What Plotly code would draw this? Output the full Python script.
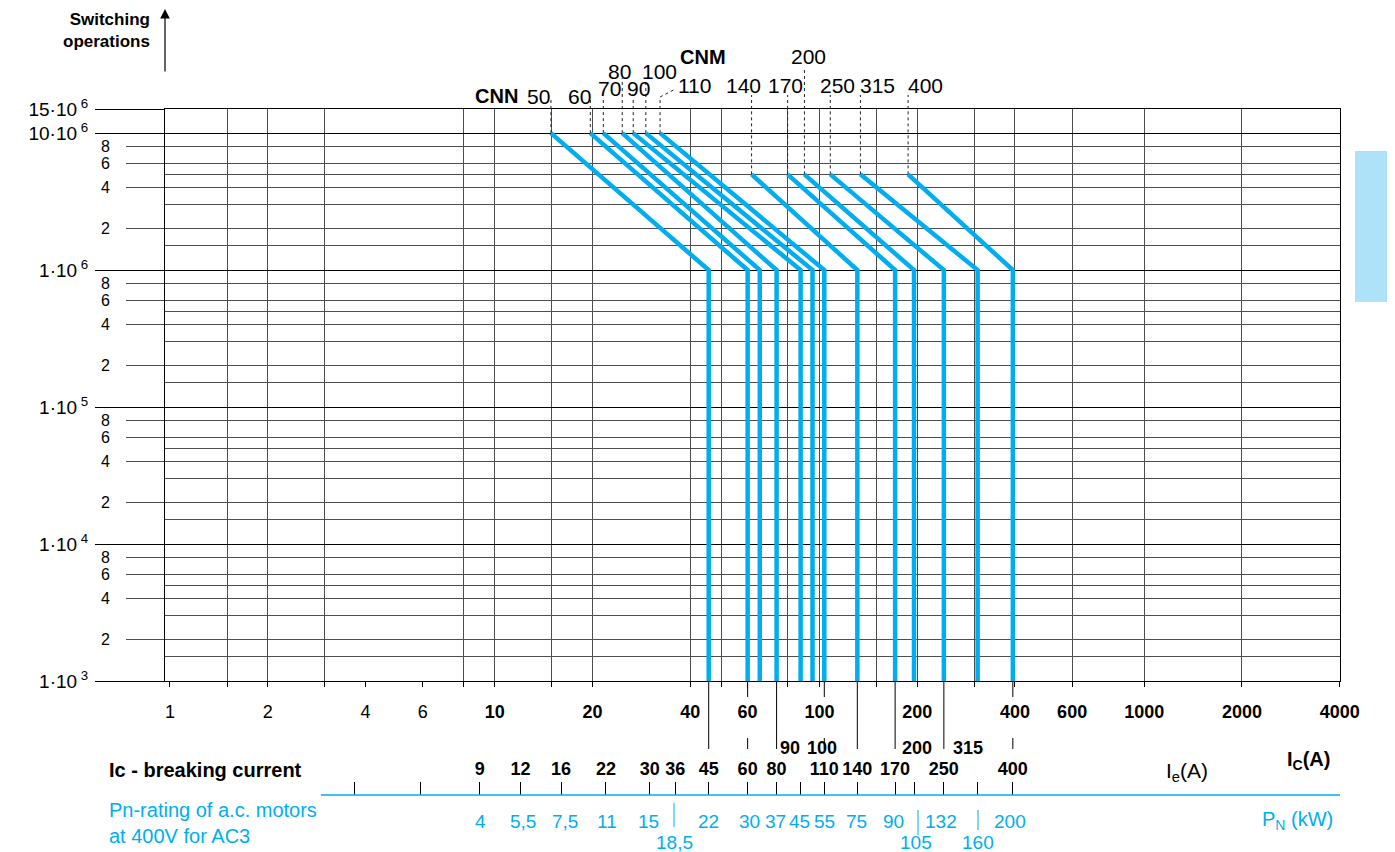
import numpy as np
import plotly.graph_objects as go

# --- data ----------------------------------------------------------------
contactors = ["50", "60", "70", "80", "90", "100", "110", "140", "170", "200", "250", "315", "400"]
start_ic = [14.9, 19.7, 21.6, 24.7, 26.7, 29.2, 32.3, 61.8, 79.8, 89.9, 108, 133.7, 187.5]
start_ops = [1e7, 1e7, 1e7, 1e7, 1e7, 1e7, 1e7, 5e6, 5e6, 5e6, 5e6, 5e6, 5e6]
knee_ic = [45.6, 60.1, 65.5, 73.8, 87.5, 95.2, 103.5, 130.8, 171, 195.5, 241.6, 307, 394]
knee_ops = 1e6
end_ops = 1e3

ic_ticks = [1, 2, 4, 6, 10, 20, 40, 60, 100, 200, 400, 600, 1000, 2000, 4000]
ic_bold = [False, False, False, False, True, True, True, True, True, True, True, True, True, True, True]
ic_grid = [1.5, 2, 3, 8, 10, 15, 20, 40, 50, 80, 100, 150, 200, 300, 400, 600, 1000, 2000]

ops_major = [1e3, 1e4, 1e5, 1e6, 1e7, 1.5e7]
ops_major_text = ["1·10<sup> 3</sup>", "1·10<sup> 4</sup>", "1·10<sup> 5</sup>", "1·10<sup> 6</sup>",
                  "10·10<sup> 6</sup>", "15·10<sup> 6</sup>"]
ops_decades = [1e3, 1e4, 1e5, 1e6]
ops_sub_labels = [2, 4, 6, 8]
ops_sub_grid = [1.5, 3, 5]

ie_ticks = [3.7, 5.9, 9, 12, 16, 22, 30, 36, 45.6, 60.1, 73.8, 87.5, 103.5, 130.8, 171, 195.5, 241.6, 307, 394]
ie_text = ["", "", "9", "12", "16", "22", "30", "36", "45", "60", "80", "", "110", "140", "170", "", "250", "", "400"]
ie_upper = ["90", "100", "200", "315"]

pn_row1 = ["4", "5,5", "7,5", "11", "15", "22", "30", "37", "45", "55", "75", "90", "132", "200"]
pn_row2 = ["18,5", "105", "160"]

# --- layout helpers (window pixel -> paper) ------------------------------
OFF = 8  # page body margin
WIN_W, WIN_H = 1395, 852
PL, PR, PT, PB = 165, 1340, 109, 681   # plot box in window pixels
PAPER_BOTTOM = 822

W, H = WIN_W - OFF, WIN_H - OFF
L, T = PL - OFF, PT - OFF
R = WIN_W - PR
B = WIN_H - PAPER_BOTTOM


def px(x):
    return (x - PL) / (PR - PL)


def py(y):
    return (PAPER_BOTTOM - y) / (PAPER_BOTTOM - PT)


BLUE = "#00AEEF"
GRID = "#4d4d4d"
SANS = "Liberation Sans, Arial, sans-serif"
NARROW = "Liberation Sans Narrow, Arial Narrow, Liberation Sans, Arial, sans-serif"

x_range = [-0.01534, 3.603]
y_range = [3, np.log10(1.5e7)]

fig = go.Figure()

# dotted leaders from the rating labels down to each curve start
for s, so in zip(start_ic, start_ops):
    fig.add_trace(go.Scatter(x=[s, s], y=[so, 1.5e7], mode="lines",
                             line=dict(color="#222", width=1, dash="dot"),
                             hoverinfo="skip", showlegend=False))

# life curves
for name, s, so, k in zip(contactors, start_ic, start_ops, knee_ic):
    fig.add_trace(go.Scatter(x=[s, k, k], y=[so, knee_ops, end_ops], mode="lines",
                             line=dict(color=BLUE, width=4.5), name=name,
                             hoverinfo="x+y+name", showlegend=False))

# invisible trace so the overlay axes are drawn
fig.add_trace(go.Scatter(x=[10], y=[1e4], xaxis="x2", yaxis="y2", mode="markers",
                         marker=dict(opacity=0), hoverinfo="skip", showlegend=False))

ic_text = [f"<b>{v}</b>" if b else str(v) for v, b in zip(ic_ticks, ic_bold)]
ie_text_b = [f"<b>{t}</b>" if t else "" for t in ie_text]
sub_vals = [d * m for d in ops_decades for m in ops_sub_labels]
sub_text = [str(m) for d in ops_decades for m in ops_sub_labels]
sub_grid = [d * m for d in ops_decades for m in ops_sub_grid]

fig.update_layout(
    width=W, height=H,
    margin=dict(l=L, r=R, t=T, b=B, autoexpand=False),
    paper_bgcolor="white", plot_bgcolor="white",
    showlegend=False,
    xaxis=dict(type="log", range=x_range, tickvals=ic_ticks, ticktext=ic_text,
               ticks="outside", ticklen=5, tickcolor="black", showgrid=False,
               showline=True, linecolor="black", linewidth=1, mirror=True,
               tickfont=dict(family=NARROW, size=18, color="black"),
               ticklabelstandoff=9, anchor="y", automargin=False,
               minor=dict(tickvals=ic_grid, ticks="outside", ticklen=5, tickcolor="black",
                          showgrid=True, gridcolor=GRID, gridwidth=1)),
    xaxis2=dict(type="log", range=x_range, overlaying="x", anchor="free",
                position=py(795), side="top", tickvals=ie_ticks, ticktext=ie_text_b,
                ticks="outside", ticklen=13, tickcolor="black", showgrid=False,
                showline=False, tickfont=dict(family=NARROW, size=18, color="black"),
                ticklabelstandoff=0, automargin=False),
    yaxis=dict(type="log", range=y_range, domain=[py(PB), 1], tickvals=ops_major,
               ticktext=ops_major_text, ticks="outside", ticklen=69, tickcolor="black",
               showgrid=True, gridcolor="black", gridwidth=1,
               showline=True, linecolor="black", linewidth=1, mirror=True,
               tickfont=dict(family=SANS, size=19, color="black"), ticklabelstandoff=3,
               automargin=False,
               minor=dict(tickvals=sub_grid, ticks="", showgrid=True, gridcolor=GRID,
                          gridwidth=1)),
    yaxis2=dict(type="log", range=y_range, overlaying="y", side="left", tickvals=sub_vals,
                ticktext=sub_text, ticks="outside", ticklen=38, tickcolor=GRID,
                showgrid=True, gridcolor=GRID, gridwidth=1, showline=False,
                tickfont=dict(family=SANS, size=16, color="black"), ticklabelstandoff=13,
                automargin=False),
)

shapes = []
# leader lines above the plot area
leader_top = [98, 98, 100, 78, 98, 78, 97, 95, 95, 68, 95, 95, 95]
for s, top in zip(start_ic, leader_top):
    shapes.append(dict(type="line", xref="x", yref="paper", x0=s, x1=s, y0=1, y1=py(top),
                       line=dict(color="#222", width=1, dash="dot")))
shapes.append(dict(type="line", xref="x", yref="paper", x0=start_ic[6], x1=start_ic[6] * 1.1,
                   y0=py(97), y1=py(90), line=dict(color="#222", width=1, dash="dot")))

# connectors below the Ic axis
for i in [0, 3, 7, 8, 10]:
    shapes.append(dict(type="line", xref="x", yref="paper", x0=knee_ic[i], x1=knee_ic[i],
                       y0=py(681), y1=py(749), line=dict(color="black", width=1)))
for i in [1, 6, 12]:
    for a, b in [(681, 697), (738, 749)]:
        shapes.append(dict(type="line", xref="x", yref="paper", x0=knee_ic[i], x1=knee_ic[i],
                           y0=py(a), y1=py(b), line=dict(color="black", width=1)))

# Ie scale line and Pn separators
shapes.append(dict(type="line", xref="paper", yref="paper", x0=px(321), x1=px(1340),
                   y0=py(795), y1=py(795), line=dict(color=BLUE, width=1.5)))
for xx, a, b in [(674, 803, 827), (918, 810, 835), (978, 810, 830)]:
    shapes.append(dict(type="line", xref="paper", yref="paper", x0=px(xx), x1=px(xx),
                       y0=py(a), y1=py(b), line=dict(color=BLUE, width=1)))

# side tab
shapes.append(dict(type="rect", xref="paper", yref="paper", x0=px(1355), x1=px(1400),
                   y0=py(302), y1=py(151), fillcolor="#AEE2F8", line=dict(width=0)))
fig.update_layout(shapes=shapes)


def ann(text, x, y, size=16, color="black", family=SANS, xanchor="center", **kw):
    fig.add_annotation(text=text, xref="paper", yref="paper", x=px(x), y=py(y),
                       showarrow=False, xanchor=xanchor, yanchor="middle",
                       font=dict(family=family, size=size, color=color), **kw)


# y axis title and arrow
ann("<b>Switching<br>operations</b>", 152, 30, size=17, xanchor="right", align="right")
fig.add_annotation(x=px(165), y=py(9), xref="paper", yref="paper", text="", showarrow=True,
                   ax=0, ay=64, arrowhead=2, arrowsize=1.6, arrowwidth=1.2, arrowcolor="black")

# rating labels
label_pos = [(538, 96), (579, 96), (609, 89), (619, 71), (638, 89), (659, 71), (694, 85),
             (743, 85), (785, 85), (808, 57), (837, 85), (877, 85), (925, 85)]
for name, (lx, ly) in zip(contactors, label_pos):
    ann(name, lx, ly, size=21)
ann("<b>CNN</b>", 496, 96, size=20)
ann("<b>CNM</b>", 703, 57, size=20)

# axis captions
ann("<b>I<sub>C</sub>(A)</b>", 1308, 760, size=20, family=NARROW)
ann("<b>Ic - breaking current</b>", 107, 770, size=20, family=NARROW, xanchor="left")
ann("I<sub>e</sub>(A)", 1187, 772, size=21, family=NARROW)
for t, xx in zip(ie_upper, [790, 822, 917, 968]):
    ann(f"<b>{t}</b>", xx, 748, size=18, family=NARROW)

# Pn row
ann("Pn-rating of a.c. motors<br>at 400V for AC3", 107, 823, size=20, color=BLUE,
    xanchor="left", align="left")
for t, xx in zip(pn_row1, [480, 523, 565, 607, 648, 708, 749, 775, 799, 824, 856, 893, 941, 1010]):
    ann(t, xx, 821, size=19, color=BLUE)
for t, xx in zip(pn_row2, [674, 916, 978]):
    ann(t, xx, 843, size=19, color=BLUE)
ann("P<sub>N</sub> (kW)", 1297, 820, size=20, color=BLUE)

ann("<b>1</b>", 1386, 215, size=26, xanchor="left")

fig.write_html("out.html")
